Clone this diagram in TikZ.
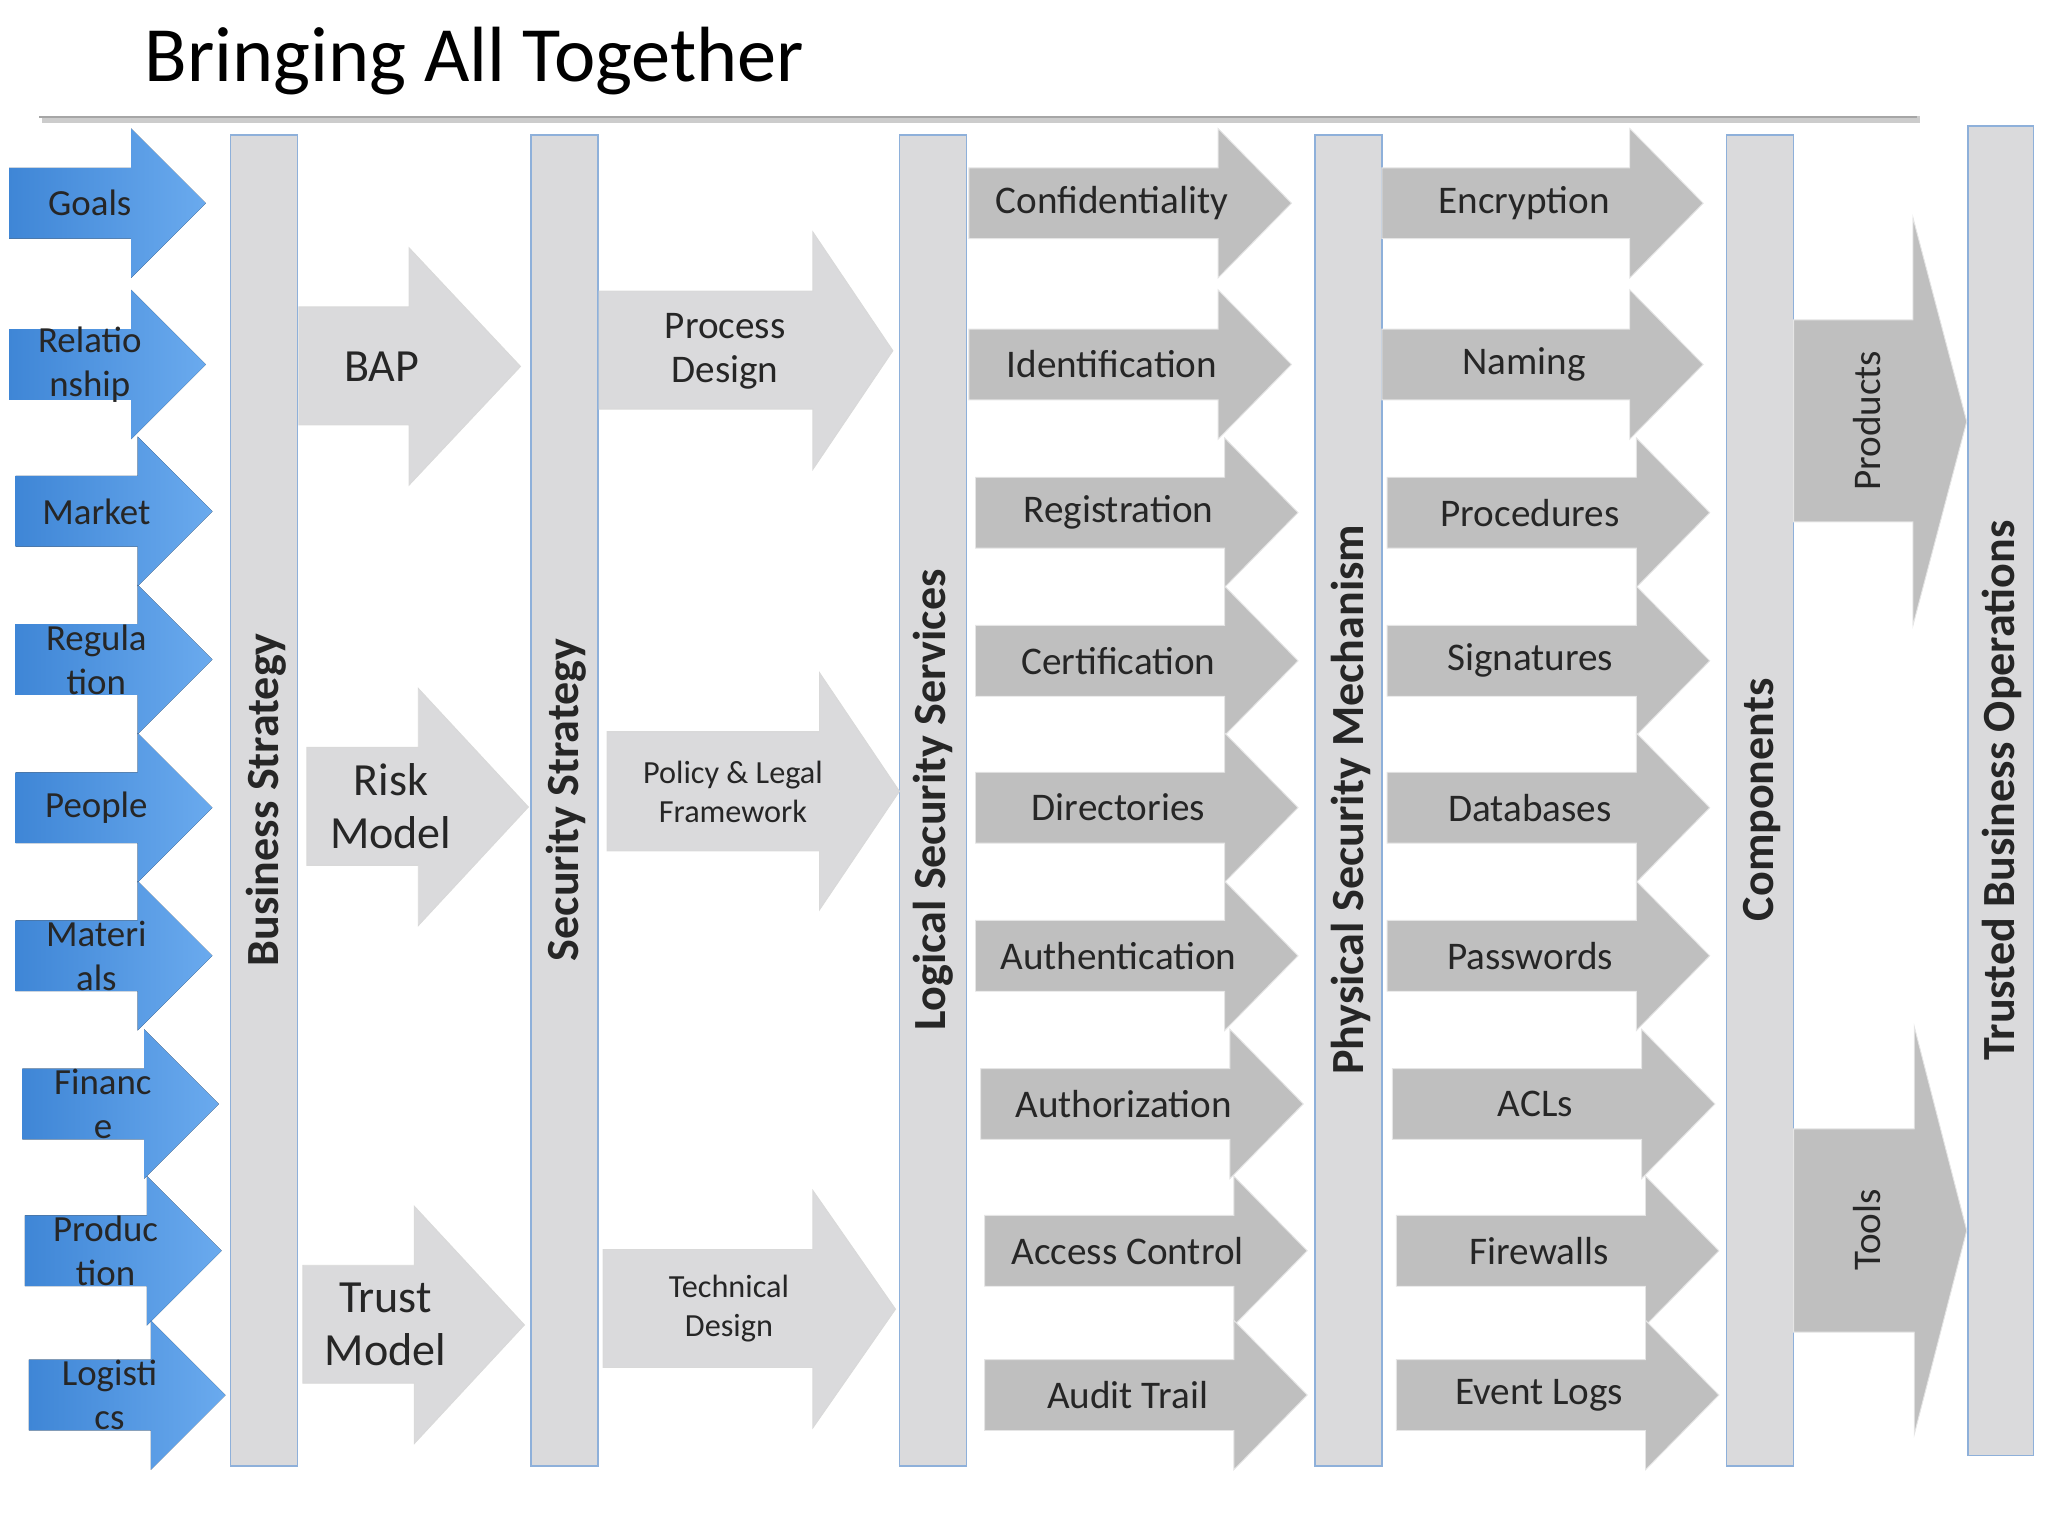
\documentclass[tikz,border=0pt]{standalone}
\usepackage{fontspec}
\setmainfont{Carlito}
\definecolor{bluA}{HTML}{3F86D6}
\definecolor{bluB}{HTML}{6AAAEE}
\definecolor{lg}{HTML}{DADADC}
\definecolor{dg}{HTML}{BFBFBF}
\definecolor{bord}{HTML}{8EB0DA}
\begin{document}
\begin{tikzpicture}[x=0.02cm,y=-0.02cm,
  blue/.style={left color=bluA,right color=bluB,draw=none},
  light/.style={fill=lg,draw=white!70!gray,line width=0.4pt},
  dark/.style={fill=dg,draw=white!80!gray,line width=0.4pt},
  bar/.style={fill=lg,draw=bord,line width=0.6pt},
  lbl/.style={font=\fontsize{17}{19}\selectfont,align=center,text=black!85},
  big/.style={font=\fontsize{20}{23}\selectfont,align=center,text=black!85},
  small/.style={font=\fontsize{14}{17}\selectfont,align=center,text=black!85},
  vt/.style={font=\bfseries\fontsize{20}{22}\selectfont,rotate=90,text=black!85}]
\useasboundingbox (0,0) rectangle (1562,1172);
\newcommand\arr[8]{\filldraw[#1] (#2,#5)--(#3,#5)--(#3,#7)--(#4,{(#7+#8)/2})--(#3,#8)--(#3,#6)--(#2,#6)--cycle;}
% title
\node[anchor=base west,font=\fontsize{34}{38}\selectfont] (title) at (104,62) {Bringing All Together};
\draw[gray!40,line width=3pt] (32,91)--(1464,91);
\draw[gray!70,line width=1pt] (30,89)--(1462,89);
% blue arrows
\foreach \n/\t/\a/\b/\c/\yy in {g/Goals/7/100/157/155,r/Relatio\\nship/7/100/157/278,m/Market/12/105/162/390,re/Regula\\tion/12/105/162/503,p/People/12/105/162/616,ma/Materi\\als/12/105/162/729,f/Financ\\e/17/110/167/842,pr/Produc\\tion/19/112/169/954,l/Logisti\\cs/22/115/172/1064}{
  \arr{blue}{\a}{\b}{\c}{\yy-27}{\yy+27}{\yy-57}{\yy+57}
  \node[lbl,font=\fontsize{16}{19}\selectfont] (b\n) at ({(\a+\b)/2+15},\yy) {\t};
}
% bars
\filldraw[bar] (176,103) rectangle (227,1118); \node[vt] (bs) at (203,610) {Business Strategy};
\filldraw[bar] (405,103) rectangle (456,1118); \node[vt] (ss) at (432,610) {Security Strategy};
\filldraw[bar] (686,103) rectangle (737,1118); \node[vt] (ls) at (712,610) {Logical Security Services};
\filldraw[bar] (1003,103) rectangle (1054,1118); \node[vt] (ps) at (1030,610) {Physical Security Mechanism};
\filldraw[bar] (1317,103) rectangle (1368,1118); \node[vt] (co) at (1344,610) {Components};
\filldraw[bar] (1501,96) rectangle (1551,1110); \node[vt] (tb) at (1527,603) {Trusted Business Operations};
% light arrows
\arr{light}{228}{312}{397}{234}{324}{189}{370} \node[big] (bap) at (291,280) {BAP};
\arr{light}{234}{319}{403}{570}{660}{525}{706} \node[big] (risk) at (298,615) {Risk\\Model};
\arr{light}{231}{316}{400}{965}{1055}{920}{1101} \node[big] (trust) at (294,1010) {Trust\\Model};
\arr{light}{457}{620}{681}{222}{312}{177}{358} \node[lbl] (proc) at (553,268) {Process\\Design};
\arr{light}{463}{625}{686}{558}{649}{513}{694} \node[small] (pol) at (559,604) {Policy \& Legal\\Framework};
\arr{light}{460}{620}{683}{953}{1043}{908}{1089} \node[small] (tech) at (556,998) {Technical\\Design};
% dark arrows col 1
\foreach \n/\t/\a/\b/\c/\yy in {c1/Confidentiality/739/929/985/155,c2/Identification/739/929/985/278,c3/Registration/744/934/990/391,c4/Certification/744/934/990/504,c5/Directories/744/934/990/616,c6/Authentication/744/934/990/729,c7/Authorization/748/938/994/842,c8/Access Control/751/941/997/954,c9/Audit Trail/751/941/997/1064,
 d1/Encryption/1054/1243/1299/155,d2/Naming/1054/1243/1299/278,d3/Procedures/1058/1248/1304/391,d4/Signatures/1058/1248/1304/504,d5/Databases/1058/1248/1304/616,d6/Passwords/1058/1248/1304/729,d7/ACLs/1062/1252/1308/842,d8/Firewalls/1065/1255/1311/954,d9/Event Logs/1065/1255/1311/1064}{
  \arr{dark}{\a}{\b}{\c}{\yy-27}{\yy+27}{\yy-57}{\yy+57}
  \node[lbl] (\n) at ({(\a+\b)/2+14},\yy) {\t};
}
% products / tools
\arr{dark}{1368}{1459}{1500}{244}{398}{166}{477} \node[lbl,rotate=90] (prod) at (1424,321) {Products};
\arr{dark}{1368}{1460}{1500}{861}{1016}{783}{1094} \node[lbl,rotate=90] (tools) at (1424,938) {Tools};
\end{tikzpicture}
\end{document}
